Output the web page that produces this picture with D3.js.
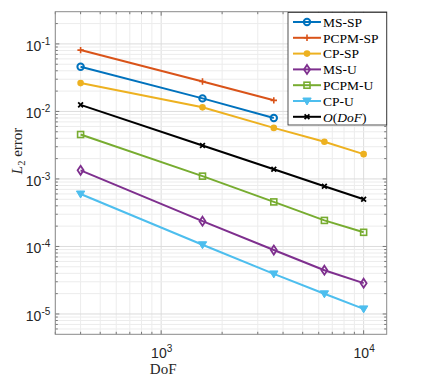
<!DOCTYPE html>
<html>
<head>
<meta charset="utf-8">
<script src="https://cdn.jsdelivr.net/npm/d3@7"></script>
<style>
  body { margin: 0; background: #fff; }
  .tick text { font-family: "Liberation Sans", Arial, sans-serif; }
  .lbl { font-family: "Liberation Serif", "DejaVu Serif", serif; }
</style>
</head>
<body>
<svg id="chart" width="427" height="380"></svg>
<script>
// Data
const dof = [400, 1600, 3600, 6400, 10000];
const msSP   = [0.046, 0.0156, 0.0080];
const pcpmSP = [0.081, 0.0278, 0.0146];
const cpSP   = [0.0263, 0.0115, 0.0057, 0.00355, 0.00233];
const msU    = [0.00134, 0.000237, 0.0000885, 0.0000445, 0.0000286];
const pcpmU  = [0.00455, 0.0011, 0.000457, 0.000243, 0.000162];
const cpU    = [0.000598, 0.000106, 0.0000392, 0.0000199, 0.0000119];
const oDoF   = [0.0125, 0.00313, 0.00139, 0.00078, 0.0005];

const seriesNames = ["MS-SP", "PCPM-SP", "CP-SP", "MS-U", "PCPM-U", "CP-U", "O(DoF)"];
const yTicks = [1e-5, 1e-4, 1e-3, 1e-2, 1e-1];
const xTicks = [1e3, 1e4];

const series = [
  { name: seriesNames[0], vals: msSP,   color: "#0072BD", marker: "circle" },
  { name: seriesNames[1], vals: pcpmSP, color: "#D95319", marker: "plus" },
  { name: seriesNames[2], vals: cpSP,   color: "#EDB120", marker: "dot" },
  { name: seriesNames[3], vals: msU,    color: "#7E2F8E", marker: "diamond" },
  { name: seriesNames[4], vals: pcpmU,  color: "#77AC30", marker: "square" },
  { name: seriesNames[5], vals: cpU,    color: "#4DBEEE", marker: "tri" },
  { name: seriesNames[6], vals: oDoF,   color: "#000000", marker: "cross" }
];

const margin = { left: 55.3, top: 11.7, right: 427 - 386.7, bottom: 380 - 334.3 };
const width = 427 - margin.left - margin.right;
const height = 380 - margin.top - margin.bottom;

const svg = d3.select("#chart");
const g = svg.append("g").attr("transform", `translate(${margin.left},${margin.top})`);

const x = d3.scaleLog().domain([300, 13000]).range([0, width]);
const y = d3.scaleLog().domain([5e-6, 0.3]).range([height, 0]);

// grid: minor then major
function minors(lo, hi) {
  let out = [];
  for (let e = Math.floor(Math.log10(lo)); e <= Math.ceil(Math.log10(hi)); e++) {
    for (let m = 1; m < 10; m++) {
      let v = m * Math.pow(10, e);
      if (v >= lo && v <= hi) out.push({ v: v, major: m === 1 });
    }
  }
  return out;
}
const xm = minors(300, 13000);
const ym = minors(5e-6, 0.3);

g.selectAll(".xg").data(xm).enter().append("line")
  .attr("x1", d => x(d.v)).attr("x2", d => x(d.v))
  .attr("y1", 0).attr("y2", height)
  .attr("stroke", d => d.major ? "#dcdcdc" : "#ececec")
  .attr("stroke-width", 1);
g.selectAll(".yg").data(ym).enter().append("line")
  .attr("y1", d => y(d.v)).attr("y2", d => y(d.v))
  .attr("x1", 0).attr("x2", width)
  .attr("stroke", d => d.major ? "#dcdcdc" : "#ececec")
  .attr("stroke-width", 1);

// minor ticks on all four sides (inward)
const tk = 4, tkMinor = 2.5;
xm.forEach(d => {
  let l = d.major ? tk : tkMinor;
  g.append("line").attr("x1", x(d.v)).attr("x2", x(d.v)).attr("y1", height).attr("y2", height - l).attr("stroke", "#777");
  g.append("line").attr("x1", x(d.v)).attr("x2", x(d.v)).attr("y1", 0).attr("y2", l).attr("stroke", "#777");
});
ym.forEach(d => {
  let l = d.major ? tk : tkMinor;
  g.append("line").attr("y1", y(d.v)).attr("y2", y(d.v)).attr("x1", 0).attr("x2", l).attr("stroke", "#777");
  g.append("line").attr("y1", y(d.v)).attr("y2", y(d.v)).attr("x1", width).attr("x2", width - l).attr("stroke", "#777");
});

// axes box
g.append("rect").attr("width", width).attr("height", height)
  .attr("fill", "none").attr("stroke", "#8a8a8a").attr("stroke-width", 1);

// tick labels as 10^n
const xAxis = g.append("g").attr("transform", `translate(0,${height})`)
  .call(d3.axisBottom(x).tickValues(xTicks).tickSize(0).tickFormat(""));
xAxis.select(".domain").remove();
xAxis.selectAll(".tick").append("text")
  .attr("y", 24).attr("fill", "#262626").attr("text-anchor", "middle")
  .style("font-size", "14px")
  .each(function(d) {
    let t = d3.select(this);
    t.append("tspan").text("10");
    t.append("tspan").attr("dy", -6).style("font-size", "10px").text(Math.round(Math.log10(d)));
  });

const yAxis = g.append("g")
  .call(d3.axisLeft(y).tickValues(yTicks).tickSize(0).tickFormat(""));
yAxis.select(".domain").remove();
yAxis.selectAll(".tick").append("text")
  .attr("x", -5).attr("dy", "0.45em").attr("fill", "#262626").attr("text-anchor", "end")
  .style("font-size", "14px")
  .each(function(d) {
    let t = d3.select(this);
    t.append("tspan").text("10");
    t.append("tspan").attr("dy", -6).style("font-size", "10px").text(Math.round(Math.log10(d)));
  });

// axis labels
svg.append("text").attr("class", "lbl")
  .attr("x", margin.left + x(1000) + 2).attr("y", 374)
  .attr("text-anchor", "middle").style("font-size", "15px").attr("fill", "#262626")
  .text("DoF");
const yl = svg.append("text").attr("class", "lbl")
  .attr("transform", `translate(22,${margin.top + y(2.6e-3)}) rotate(-90)`)
  .attr("text-anchor", "middle").style("font-size", "15px").attr("fill", "#262626");
yl.append("tspan").style("font-style", "italic").text("L");
yl.append("tspan").attr("dy", 3).style("font-size", "10.5px").text("2");
yl.append("tspan").attr("dy", -3).text(" error");

// markers
function drawMarker(sel, type, color) {
  if (type === "circle") {
    sel.append("circle").attr("r", 3.2).attr("fill", "none").attr("stroke", color).attr("stroke-width", 2);
  } else if (type === "dot") {
    sel.append("circle").attr("r", 3.3).attr("fill", color);
  } else if (type === "plus") {
    sel.append("path").attr("d", "M-3.2,0H3.2M0,-3.2V3.2").attr("stroke", color).attr("stroke-width", 1.6);
  } else if (type === "cross") {
    sel.append("path").attr("d", "M-2.4,-2.4L2.4,2.4M-2.4,2.4L2.4,-2.4").attr("stroke", color).attr("stroke-width", 1.8);
  } else if (type === "diamond") {
    sel.append("path").attr("d", "M0,-4.5L3,0L0,4.5L-3,0Z").attr("fill", "none").attr("stroke", color).attr("stroke-width", 1.8);
  } else if (type === "square") {
    sel.append("rect").attr("x", -3).attr("y", -3).attr("width", 6).attr("height", 6)
      .attr("fill", "none").attr("stroke", color).attr("stroke-width", 1.6);
  } else if (type === "tri") {
    sel.append("path").attr("d", "M-4.2,-3L4.2,-3L0,4Z").attr("fill", color).attr("stroke", color).attr("stroke-width", 1);
  }
}

const line = d3.line().x(d => x(d[0])).y(d => y(d[1]));
series.forEach(s => {
  const pts = s.vals.map((v, i) => [dof[i], v]);
  g.append("path").datum(pts).attr("d", line)
    .attr("fill", "none").attr("stroke", s.color).attr("stroke-width", 2);
  pts.forEach(p => {
    const m = g.append("g").attr("transform", `translate(${x(p[0])},${y(p[1])})`);
    drawMarker(m, s.marker, s.color);
  });
});

// legend
const lg = svg.append("g").attr("transform", "translate(288,12.5)");
lg.append("rect").attr("width", 98.7).attr("height", 112.5)
  .attr("fill", "#fff").attr("stroke", "#262626").attr("stroke-width", 0.8);
series.forEach((s, i) => {
  const yy = 9.5 + i * 15.8;
  lg.append("line").attr("x1", 5).attr("x2", 33).attr("y1", yy).attr("y2", yy)
    .attr("stroke", s.color).attr("stroke-width", 2);
  drawMarker(lg.append("g").attr("transform", `translate(19,${yy})`), s.marker, s.color);
  const t = lg.append("text").attr("class", "lbl")
    .attr("x", 35).attr("y", yy).attr("dy", "0.35em")
    .style("font-size", "13.5px").attr("fill", "#000");
  if (s.name === "O(DoF)") {
    t.append("tspan").style("font-style", "italic").text("O");
    t.append("tspan").text("(");
    t.append("tspan").style("font-style", "italic").text("DoF");
    t.append("tspan").text(")");
  } else {
    t.text(s.name);
  }
});
</script>
</body>
</html>
